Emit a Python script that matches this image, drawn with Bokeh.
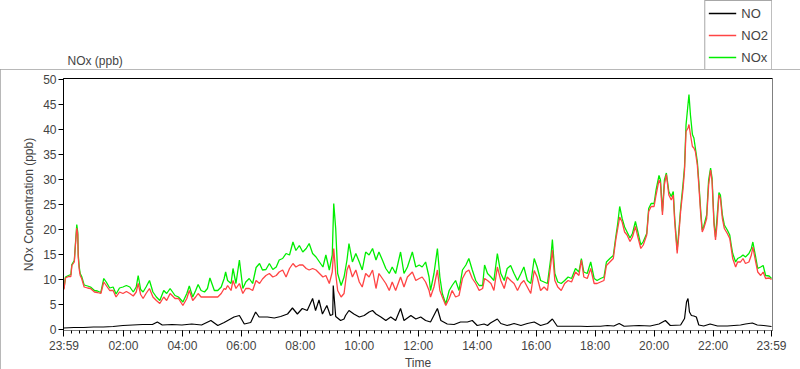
from bokeh.plotting import figure
from bokeh.layouts import column
from bokeh.models import (FixedTicker, Legend, LegendItem, LinearAxis, Range1d, Label)
from bokeh.embed import file_html
from bokeh.resources import INLINE

# minutes after 23:59 (0 = 23:59, 1440 = 23:59 next day)
t_nox = [0, 3, 9, 14, 16, 21, 23, 26, 28, 29, 31, 33, 36, 41, 48, 54, 62, 68, 75, 81, 86, 93, 100,
         106, 113, 120, 127, 134, 141, 147, 151, 156, 161, 167, 174, 181, 188, 195, 203, 209, 216,
         226, 233, 242, 250, 255, 262, 268, 273, 279, 286, 292, 297, 306, 313, 320, 326, 329, 333,
         340, 344, 350, 357, 364, 370, 377, 384, 391, 398, 404, 411, 418, 425, 432, 438, 445, 452,
         459, 466, 472, 479, 486, 493, 499, 506, 513, 520, 527, 533, 540, 546, 549, 553, 557, 564,
         570, 576, 580, 587, 594, 601, 607, 614, 621, 628, 635, 641, 648, 655, 662, 668, 675, 685,
         692, 699, 709, 716, 723, 729, 736, 743, 746, 753, 760, 765, 770, 777, 784, 790, 797, 804,
         811, 818, 824, 831, 838, 845, 852, 856, 862, 869, 875, 882, 889, 896, 902, 909, 916, 923,
         930, 936, 943, 950, 957, 963, 970, 977, 984, 991, 994, 999, 1005, 1012, 1019, 1026, 1033,
         1041, 1048, 1053, 1058, 1065, 1072, 1079, 1085, 1092, 1099, 1104, 1111, 1118, 1123, 1127,
         1131, 1136, 1141, 1146, 1152, 1157, 1163, 1168, 1174, 1179, 1186, 1190, 1195, 1201, 1205,
         1211, 1214, 1218, 1222, 1226, 1231, 1236, 1240, 1243, 1248, 1251, 1255, 1260, 1263, 1266,
         1270, 1272, 1275, 1279, 1282, 1285, 1289, 1292, 1296, 1299, 1302, 1308, 1312, 1316, 1319,
         1323, 1326, 1329, 1333, 1336, 1340, 1344, 1350, 1355, 1358, 1361, 1367, 1371, 1377, 1382,
         1387, 1394, 1399, 1402, 1407, 1412, 1418, 1423, 1428, 1435, 1440]

no2 = [8.0, 10.3, 10.6, 10.6, 12.8, 13.5, 16.5, 20.3, 19.0, 14.5, 12.0, 10.8, 10.2, 8.5, 8.3, 8.2, 7.5,
       7.4, 7.2, 9.5, 8.8, 7.8, 7.8, 6.5, 7.5, 7.2, 7.6, 7.2, 6.7, 7.5, 9.2, 7.0, 6.2, 7.2, 8.2, 6.5,
       5.8, 5.2, 6.5, 5.8, 7.2, 6.2, 6.2, 4.8, 6.2, 7.8, 5.8, 6.5, 7.2, 6.5, 6.5, 6.5, 6.5, 6.5, 6.5,
       7.2, 8.2, 8.0, 8.8, 7.8, 9.8, 8.2, 9.2, 7.2, 8.2, 8.2, 7.8, 9.8, 9.2, 10.1, 10.8, 11.2, 10.5,
       10.8, 11.5, 11.9, 10.5, 12.2, 13.2, 12.5, 12.9, 12.9, 12.2, 11.9, 12.2, 11.9, 11.2, 10.5, 10.8,
       9.2, 11.5, 16.2, 11.2, 7.8, 6.5, 7.2, 11.9, 12.9, 10.5, 11.9, 9.5, 8.5, 11.2, 10.5, 11.9, 8.2,
       11.2, 10.2, 9.2, 7.8, 9.5, 7.8, 10.5, 8.5, 10.5, 11.5, 9.8, 10.2, 10.5, 9.5, 7.8, 6.5, 8.5,
       11.9, 7.8, 6.5, 4.8, 6.2, 7.8, 6.5, 6.8, 10.2, 11.5, 11.9, 10.2, 9.2, 7.8, 8.2, 10.2, 9.8, 9.2,
       7.8, 12.5, 9.8, 8.2, 10.5, 9.8, 9.2, 7.8, 9.2, 9.8, 8.5, 7.2, 11.8, 10.5, 7.8, 8.5, 7.8, 13.2,
       15.9, 9.8, 8.5, 7.8, 9.2, 9.8, 9.5, 11.5, 10.8, 13.9, 10.5, 10.2, 12.2, 9.2, 9.2, 9.5, 9.8,
       12.8, 13.5, 14.2, 17.9, 20.2, 22.5, 21.5, 19.5, 18.9, 17.6, 18.5, 20.6, 18.5, 16.2, 16.9, 18.9,
       23.6, 24.6, 24.6, 26.9, 29.9, 29.2, 22.9, 29.0, 31.0, 26.9, 25.9, 26.9, 21.5, 15.2, 18.5, 23.6,
       28.2, 31.9, 39.6, 40.3, 41.0, 39.0, 36.6, 36.3, 35.6, 32.9, 28.9, 22.9, 19.5, 20.2, 22.2, 28.9,
       31.9, 29.6, 20.9, 17.9, 20.9, 26.9, 26.2, 22.2, 20.2, 19.2, 18.2, 16.2, 14.2, 12.5, 13.5, 13.5,
       14.2, 13.2, 13.5, 14.9, 16.5, 13.9, 11.5, 10.8, 11.5, 10.2, 10.3, 10.0]

nox = [8.2, 10.5, 10.8, 11.0, 13.0, 13.8, 16.7, 21.0, 19.5, 15.0, 12.5, 11.2, 10.6, 8.9, 8.7, 8.5, 7.8,
       7.7, 7.4, 10.2, 9.5, 8.3, 8.5, 7.1, 8.3, 8.5, 8.8, 8.5, 7.5, 8.5, 10.8, 8.0, 7.5, 8.5, 9.8, 7.5,
       6.5, 5.8, 7.8, 7.2, 8.2, 6.8, 6.5, 5.5, 7.2, 8.7, 6.5, 7.8, 9.0, 7.8, 7.5, 8.2, 10.3, 7.8, 7.8,
       8.5, 10.2, 11.5, 9.8, 9.2, 12.2, 9.2, 13.9, 8.2, 9.5, 10.2, 9.2, 12.4, 13.2, 11.9, 12.0, 13.2,
       12.0, 12.5, 13.9, 14.2, 15.2, 14.9, 17.5, 15.8, 16.8, 15.5, 16.2, 17.2, 15.2, 14.5, 13.5, 12.5,
       14.9, 11.9, 14.9, 25.2, 20.2, 11.2, 8.8, 10.5, 13.9, 17.2, 13.5, 15.2, 13.5, 11.9, 15.5, 14.9,
       16.2, 13.9, 15.5, 13.9, 12.2, 11.2, 12.5, 11.2, 15.5, 11.2, 12.5, 15.5, 12.5, 12.9, 12.5, 13.5,
       10.5, 7.8, 11.2, 16.2, 10.5, 7.2, 5.1, 7.8, 8.8, 9.8, 7.8, 11.9, 12.9, 14.2, 11.9, 9.8, 8.8, 8.8,
       12.9, 11.2, 10.5, 9.8, 15.2, 11.2, 9.8, 12.2, 12.8, 11.2, 9.8, 11.2, 12.5, 9.8, 9.2, 14.2, 12.5,
       9.8, 9.5, 9.2, 14.5, 18.0, 11.2, 9.5, 9.2, 9.8, 10.5, 10.2, 12.2, 11.5, 14.2, 11.5, 11.2, 13.5,
       10.2, 9.8, 10.2, 10.5, 13.5, 14.2, 14.8, 18.5, 21.2, 24.6, 22.2, 20.5, 19.5, 18.3, 19.2, 21.6,
       19.5, 16.9, 17.6, 19.2, 24.2, 25.2, 25.2, 27.9, 30.8, 29.9, 23.6, 29.9, 31.3, 27.6, 26.6, 27.6,
       22.2, 15.9, 19.2, 24.2, 29.2, 32.6, 40.9, 45.0, 47.0, 42.9, 39.0, 38.3, 36.3, 33.6, 29.6, 23.6,
       19.9, 20.6, 22.9, 29.9, 32.3, 30.3, 21.5, 18.5, 22.2, 27.4, 26.9, 22.9, 20.9, 19.9, 18.9, 16.9,
       15.2, 13.5, 14.2, 14.5, 14.9, 14.5, 15.2, 16.2, 17.5, 14.9, 12.2, 12.5, 12.8, 10.8, 10.7, 10.2]

t_no = [0, 20, 40, 60, 80, 100, 120, 140, 160, 180, 190, 200, 220, 240, 260, 280, 299, 313, 326, 346,
        357, 367, 380, 390, 397, 414, 428, 441, 455, 465, 475, 485, 495, 506, 512, 519, 526, 535, 542,
        547, 548, 553, 563, 570, 573, 580, 590, 601, 611, 621, 628, 635, 645, 655, 665, 675, 685, 692,
        706, 716, 726, 736, 746, 760, 767, 780, 794, 807, 821, 831, 841, 855, 862, 868, 882, 889, 902,
        916, 930, 943, 957, 970, 984, 994, 1004, 1024, 1038, 1052, 1065, 1079, 1092, 1106, 1119, 1130,
        1140, 1150, 1170, 1193, 1211, 1224, 1234, 1255, 1263, 1267, 1270, 1273, 1277, 1282, 1287, 1292,
        1302, 1315, 1330, 1350, 1377, 1387, 1401, 1411, 1424, 1440]

no = [0.3, 0.4, 0.4, 0.5, 0.5, 0.6, 0.8, 0.9, 1.0, 1.0, 1.5, 0.9, 1.0, 0.9, 1.1, 0.9, 1.8, 0.8, 1.4, 2.5,
      2.8, 1.1, 1.4, 3.5, 2.5, 2.5, 2.3, 2.6, 3.1, 4.3, 3.1, 4.2, 3.8, 6.2, 3.8, 5.9, 3.1, 4.8, 2.8,
      3.0, 8.8, 2.6, 1.8, 2.1, 2.8, 3.8, 3.1, 2.5, 2.8, 3.5, 3.8, 3.1, 2.5, 1.8, 2.5, 1.8, 4.2, 1.8,
      2.8, 2.1, 2.5, 1.8, 1.5, 4.2, 1.8, 1.1, 1.0, 1.5, 1.5, 1.8, 0.8, 1.1, 0.8, 1.3, 2.1, 1.2, 0.8,
      1.2, 0.8, 1.2, 1.5, 0.8, 1.2, 2.1, 0.65, 0.65, 0.65, 0.65, 0.6, 0.65, 0.65, 0.8, 0.7, 1.2,
      0.65, 0.7, 0.8, 0.7, 1.1, 1.8, 0.8, 0.9, 2.2, 5.5, 6.2, 3.5, 2.8, 2.7, 2.5, 0.9,
      0.7, 1.1, 0.7, 0.7, 0.9, 1.1, 1.3, 0.9, 0.8, 0.6]

series_names = ["NO", "NO2", "NOx"]
series_colors = ["black", "#ff4444", "#00ee00"]

x_tick_minutes = [0, 121, 241, 361, 481, 601, 721, 841, 961, 1081, 1201, 1321, 1440]
x_tick_labels = ["23:59", "02:00", "04:00", "06:00", "08:00", "10:00", "12:00", "14:00",
                 "16:00", "18:00", "20:00", "22:00", "23:59"]
y_ticks = [0, 5, 10, 15, 20, 25, 30, 35, 40, 45, 50]

FONT = "Liberation Sans"

# ---------- header: graph label + legend ----------
head = figure(width=800, height=69, min_border=0, x_axis_location=None, y_axis_location=None,
              x_range=Range1d(0, 1), y_range=Range1d(0, 1),
              output_backend="svg", toolbar_location=None)
head.outline_line_color = None
head.xgrid.visible = False
head.ygrid.visible = False
h_no = head.line(t_no, no, line_color=series_colors[0], line_width=1.5, visible=False)
h_no2 = head.line(t_nox, no2, line_color=series_colors[1], line_width=1.5, visible=False)
h_nox = head.line(t_nox, nox, line_color=series_colors[2], line_width=1.5, visible=False)
head.add_layout(Label(x=4, y=2, x_units="screen", y_units="screen", text="NOx (ppb)",
                      text_font=FONT, text_font_size="12px", text_baseline="bottom"))
legend = Legend(items=[LegendItem(label=series_names[0], renderers=[h_no]),
                       LegendItem(label=series_names[1], renderers=[h_no2]),
                       LegendItem(label=series_names[2], renderers=[h_nox])],
                location="top_right", orientation="vertical",
                label_text_font=FONT, label_text_font_size="13px",
                glyph_width=28, glyph_height=18, spacing=4, padding=3, margin=0,
                label_standoff=5, label_width=26, border_line_color="#505050", border_line_width=1,
                background_fill_color="white", background_fill_alpha=1)
head.add_layout(legend)

# ---------- main chart ----------
p = figure(frame_width=709, frame_height=252,
           min_border_left=63, min_border_right=28, min_border_top=9, min_border_bottom=39,
           x_range=Range1d(-1, 1442), y_range=Range1d(-0.2, 50.2),
           output_backend="svg", toolbar_location=None)
p.styles = {"outline": "1px solid #a0a0a0", "outline-offset": "-1px"}
p.background_fill_color = "white"
p.border_fill_color = "white"
p.xgrid.visible = False
p.ygrid.visible = False
p.outline_line_color = "black"
p.outline_line_width = 1

p.line(t_nox, nox, line_color=series_colors[2], line_width=1.3)
p.line(t_nox, no2, line_color=series_colors[1], line_width=1.3)
p.line(t_no, no, line_color=series_colors[0], line_width=1.2)

yax = p.yaxis[0]
yax.ticker = FixedTicker(ticks=y_ticks)
yax.major_tick_out = 5
yax.major_tick_in = 0
yax.minor_tick_out = 0
yax.minor_tick_in = 0
yax.axis_line_color = "black"
yax.major_label_text_font = FONT
yax.major_label_text_font_size = "12px"
yax.major_label_standoff = 2
yax.axis_label = "NOx Concentration (ppb)"
yax.axis_label_text_font = FONT
yax.axis_label_text_font_size = "12px"
yax.axis_label_text_font_style = "normal"
yax.axis_label_standoff = 4

xax = p.xaxis[0]
xax.ticker = FixedTicker(ticks=x_tick_minutes,
                         minor_ticks=[1 + 15 * k for k in range(1, 96)])
xax.major_label_overrides = {m: s for m, s in zip(x_tick_minutes, x_tick_labels)}
xax.major_tick_out = 6
xax.major_tick_in = 0
xax.minor_tick_out = 3
xax.minor_tick_in = 0
xax.axis_line_color = "#808080"
xax.major_label_text_font = FONT
xax.major_label_text_font_size = "12px"
xax.major_label_standoff = 2
xax.axis_label = "Time"
xax.axis_label_text_font = FONT
xax.axis_label_text_font_size = "12px"
xax.axis_label_text_font_style = "normal"
xax.axis_label_standoff = 0

rax = LinearAxis(ticker=FixedTicker(ticks=[]), axis_line_color="#808080",
                 major_tick_out=0, minor_tick_out=0, major_label_text_font_size="0px")
p.add_layout(rax, "right")

layout = column(head, p, spacing=0)

open("out.html", "w").write(file_html(layout, INLINE))
